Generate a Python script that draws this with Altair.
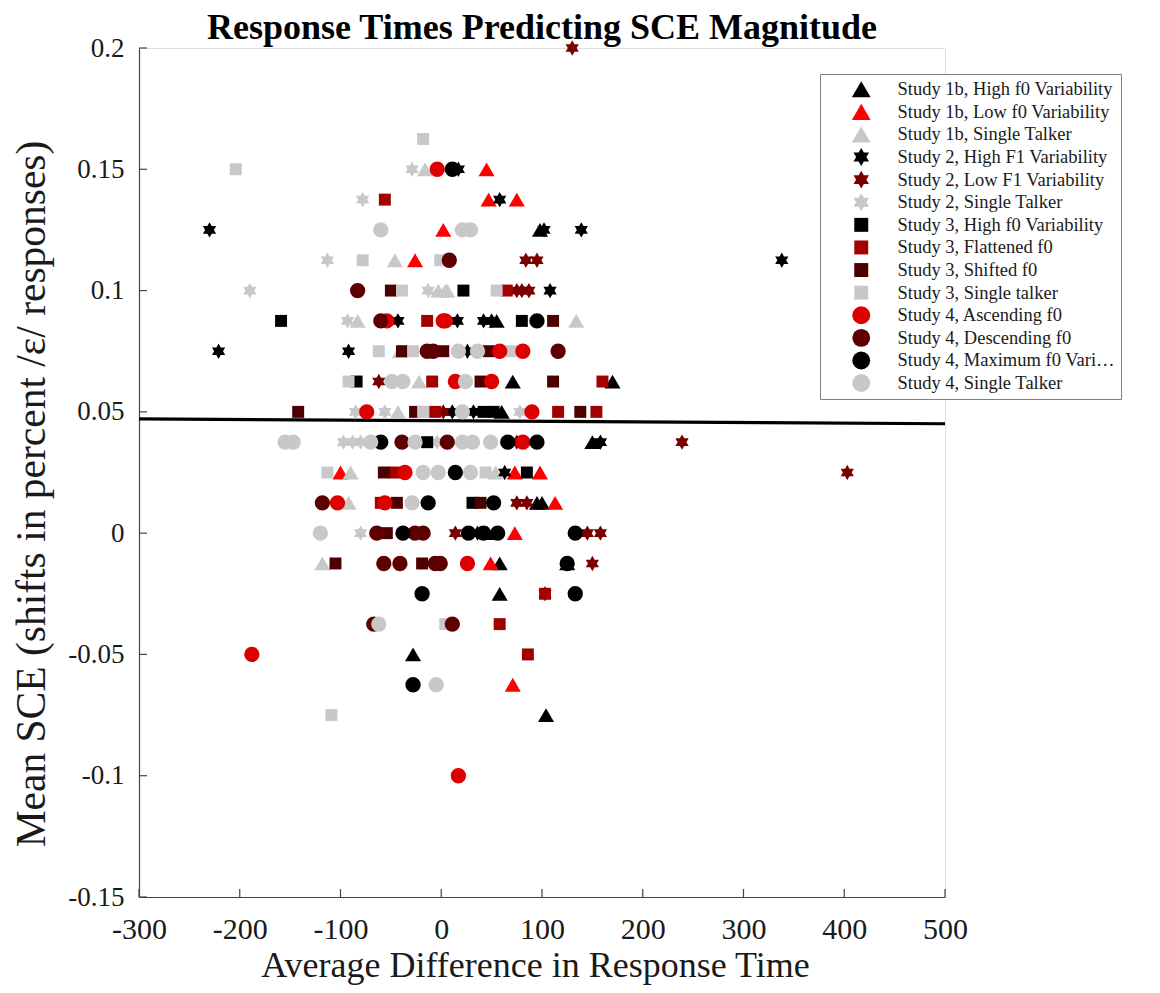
import altair as alt
import pandas as pd

# ---------------- data ----------------
categories = [
    "Study 1b, High f0 Variability",
    "Study 1b, Low f0 Variability",
    "Study 1b, Single Talker",
    "Study 2, High F1 Variability",
    "Study 2, Low F1 Variability",
    "Study 2, Single Talker",
    "Study 3, High f0 Variability",
    "Study 3, Flattened f0",
    "Study 3, Shifted f0",
    "Study 3, Single talker",
    "Study 4, Ascending f0",
    "Study 4, Descending f0",
    "Study 4, Maximum f0 Variability",
    "Study 4, Single Talker",
]

s1b_high_x = [98, 55, 71, 170, 60, 150, 95, 100, 46, 58, 125, 58, -28, 104]
s1b_high_y = [0.125, 0.0875, 0.0625, 0.0625, 0.05, 0.0375, 0.0125, 0.0125, 0, -0.0125, -0.0125, -0.025, -0.05, -0.075]

s1b_low_x = [45, 47, 75, 2, -26, -100, 73, 98, 113, 73, 49, 71]
s1b_low_y = [0.15, 0.1375, 0.1375, 0.125, 0.1125, 0.025, 0.025, 0.025, 0.0125, 0, -0.0125, -0.0625]

s1b_single_x = [-16, -46, -3, 4, 6, -83, 134, -41, -22, -43, -90, 54, -92, -118]
s1b_single_y = [0.15, 0.1125, 0.1, 0.1, 0.1, 0.0875, 0.0875, 0.075, 0.0625, 0.05, 0.025, 0.025, 0.0125, -0.0125]

s2_high_x = [17, 58, -230, 102, 139, 338, 108, -43, 16, 42, 50, -221, -92, 26, 11, 32, 158, 63, 36]
s2_high_y = [0.15, 0.1375, 0.125, 0.125, 0.125, 0.1125, 0.1, 0.0875, 0.0875, 0.0875, 0.0875, 0.075, 0.075, 0.075, 0.05, 0.05, 0.0375, 0.025, 0]

s2_low_x = [130, 84, 95, 75, 80, 87, -62, 2, 75, 239, 403, 75, 85, 14, 145, 158, 150, 103]
s2_low_y = [0.2, 0.1125, 0.1125, 0.1, 0.1, 0.1, 0.0625, 0.05, 0.0375, 0.0375, 0.025, 0.0125, 0.0125, 0, 0, 0, -0.0125, -0.025]

s2_single_x = [-29, -78, -113, -190, -13, -93, -85, -56, 78, -97, -88, -80, -4, -80]
s2_single_y = [0.15, 0.1375, 0.1125, 0.1, 0.1, 0.0875, 0.05, 0.05, 0.05, 0.0375, 0.0375, 0.0375, 0.0375, 0]

s3_high_x = [22, -159, 80, -84, 42, 52, -14, 85, 31]
s3_high_y = [0.1, 0.0875, 0.0875, 0.0625, 0.05, 0.05, 0.0375, 0.025, 0.0125]

s3_flat_x = [-56, 65, -14, -9, 160, -6, 116, 154, -46, -60, 58, 86, 103]
s3_flat_y = [0.1375, 0.1, 0.0875, 0.0625, 0.0625, 0.05, 0.05, 0.05, 0.025, 0.0125, -0.0375, -0.05, -0.025]

s3_shift_x = [-50, 111, -39, 2, 47, 39, 111, -142, -26, 138, -57, -44, 39, -54, -105, -19]
s3_shift_y = [0.1, 0.0875, 0.075, 0.075, 0.075, 0.0625, 0.0625, 0.05, 0.05, 0.05, 0.025, 0.0125, 0.0125, 0, -0.0125, -0.0125]

s3_single_x = [-18, -204, -78, -1, -39, 55, -62, -28, 70, -92, -18, -113, 44, 4, -109]
s3_single_y = [0.1625, 0.15, 0.1125, 0.1125, 0.1, 0.1, 0.075, 0.075, 0.075, 0.0625, 0.05, 0.025, 0.025, -0.0375, -0.075]

s4_asc_x = [-4, -54, 2, 4, 58, 81, 14, 50, -74, 90, 81, -36, -103, -56, 26, -188, 17]
s4_asc_y = [0.15, 0.0875, 0.0875, 0.0875, 0.075, 0.075, 0.0625, 0.0625, 0.05, 0.05, 0.0375, 0.025, 0.0125, 0.0125, -0.0125, -0.05, -0.1]

s4_desc_x = [8, -83, -60, -14, -8, 116, -39, 6, -118, -64, -26, -18, -57, -41, -6, -1, -67, 11]
s4_desc_y = [0.1125, 0.1, 0.0875, 0.075, 0.075, 0.075, 0.0375, 0.0375, 0.0125, 0, 0, 0, -0.0125, -0.0125, -0.0125, -0.0125, -0.0375, -0.0375]

s4_max_x = [11, 95, -60, 66, 95, 14, -13, 52, -38, 27, 42, 56, 133, 125, -19, 133, -28]
s4_max_y = [0.15, 0.0875, 0.0375, 0.0375, 0.0375, 0.025, 0.0125, 0.0125, 0, 0, 0, 0, 0, -0.0125, -0.025, -0.025, -0.0625]

s4_single_x = [-60, 21, 29, -49, -38, 24, 17, 36, 21, -155, -147, -70, -26, 21, 31, 49, -18, -3, 29, -29, -120, -62, -5]
s4_single_y = [0.125, 0.125, 0.125, 0.0625, 0.0625, 0.0625, 0.075, 0.075, 0.05, 0.0375, 0.0375, 0.0375, 0.0375, 0.0375, 0.0375, 0.0375, 0.025, 0.025, 0.025, 0.0125, 0, -0.0375, -0.0625]

series_x = [s1b_high_x, s1b_low_x, s1b_single_x, s2_high_x, s2_low_x, s2_single_x,
            s3_high_x, s3_flat_x, s3_shift_x, s3_single_x, s4_asc_x, s4_desc_x, s4_max_x, s4_single_x]
series_y = [s1b_high_y, s1b_low_y, s1b_single_y, s2_high_y, s2_low_y, s2_single_y,
            s3_high_y, s3_flat_y, s3_shift_y, s3_single_y, s4_asc_y, s4_desc_y, s4_max_y, s4_single_y]

# regression line endpoints
line_x = [-300, 500]
line_y = [0.0471, 0.0451]

x_ticks = [-300, -200, -100, 0, 100, 200, 300, 400, 500]
y_ticks = [-0.15, -0.1, -0.05, 0, 0.05, 0.1, 0.15, 0.2]

# ---------------- styles ----------------
colors = ["#000000", "#ff0000", "#c8c8c8",
          "#000000", "#7a0000", "#c8c8c8",
          "#000000", "#a30000", "#4d0000", "#c8c8c8",
          "#dc0000", "#5e0000", "#000000", "#c8c8c8"]

TRI = "M0,-0.9L1.05,0.9L-1.05,0.9Z"
HEX = ("M0,-1L0.2887,-0.5L0.866,-0.5L0.5774,0L0.866,0.5L0.2887,0.5L0,1"
       "L-0.2887,0.5L-0.866,0.5L-0.5774,0L-0.866,-0.5L-0.2887,-0.5Z")
SQ = "M-0.78,-0.78H0.78V0.78H-0.78Z"
CIR = "circle"
shapes = [TRI, TRI, TRI, HEX, HEX, HEX, SQ, SQ, SQ, SQ, CIR, CIR, CIR, CIR]

rows = []
order = 0
for cat, xs, ys in zip(categories, series_x, series_y):
    for xv, yv in zip(xs, ys):
        rows.append({"x": xv, "y": yv, "cat": cat, "o": order})
        order += 1
df = pd.DataFrame(rows)
line_df = pd.DataFrame({"x": line_x, "y": line_y})
xt_df = pd.DataFrame({"v": x_ticks})
yt_df = pd.DataFrame({"v": y_ticks})

FONT = "Liberation Serif"
W, H = 806, 849

xscale = alt.Scale(domain=[-300, 500], nice=False, zero=False)
yscale = alt.Scale(domain=[-0.15, 0.2], nice=False, zero=False)

x_axis = alt.Axis(values=x_ticks, labelExpr="'' + datum.value", grid=False, ticks=False,
                  tickSize=0, labelFont=FONT, labelFontSize=30, labelColor="#1a1a1a",
                  labelPadding=17, domainColor="#444444", domainWidth=1.2,
                  title="Average Difference in Response Time", titleFont=FONT,
                  titleFontSize=36, titleFontWeight="normal", titleColor="#1a1a1a",
                  titlePadding=4, titleX=W / 2 - 7, labelFlush=False)
y_axis = alt.Axis(values=y_ticks, labelExpr="'' + datum.value", grid=False, ticks=False,
                  tickSize=0, labelFont=FONT, labelFontSize=27, labelColor="#1a1a1a",
                  labelPadding=15, domainColor="#444444", domainWidth=1.2,
                  title="Mean SCE (shifts in percent /ε/ responses)", titleFont=FONT,
                  titleFontSize=41.5, titleFontWeight="normal", titleColor="#1a1a1a",
                  titlePadding=14, titleY=H / 2 + 21, labelFlush=False)

points = alt.Chart(df).mark_point(filled=True, opacity=1, size=235, strokeWidth=0.6).encode(
    x=alt.X("x:Q", scale=xscale, axis=x_axis),
    y=alt.Y("y:Q", scale=yscale, axis=y_axis),
    color=alt.Color("cat:N", scale=alt.Scale(domain=categories, range=colors),
                    legend=alt.Legend(title=None, orient="none", legendX=681, legendY=26,
                                      labelFont=FONT, labelFontSize=18.5, labelColor="#1a1a1a",
                                      symbolSize=320, symbolStrokeWidth=0,
                                      strokeColor="#808080", fillColor="white",
                                      padding=6, rowPadding=3.6, symbolOffset=26,
                                      labelOffset=27, labelLimit=222)),
    shape=alt.Shape("cat:N", scale=alt.Scale(domain=categories, range=shapes)),
    order=alt.Order("o:Q"),
)

reg = alt.Chart(line_df).mark_line(color="black", strokeWidth=3.2).encode(
    x=alt.X("x:Q", scale=xscale),
    y=alt.Y("y:Q", scale=yscale),
)

xticks = alt.Chart(xt_df).mark_rule(color="#444444", strokeWidth=1.2).encode(
    x=alt.X("v:Q", scale=xscale),
    y=alt.value(H), y2=alt.value(H - 8),
)
yticks = alt.Chart(yt_df).mark_rule(color="#444444", strokeWidth=1.2).encode(
    y=alt.Y("v:Q", scale=yscale),
    x=alt.value(0), x2=alt.value(8),
)

chart = alt.layer(xticks, yticks, reg, points).properties(
    width=W, height=H,
    title=alt.Title("Response Times Predicting SCE Magnitude", font=FONT, fontSize=36,
                    fontWeight="bold", color="black", anchor="middle", offset=4,
                    frame="group", dy=17),
    autosize=alt.AutoSizeParams(type="none"),
    padding={"left": 139, "top": 48, "right": 1160 - 139 - W, "bottom": 993 - 48 - H},
).configure_view(strokeWidth=0).configure(background="white")

chart.save("out.html", embed_options={"renderer": "svg", "actions": False})
